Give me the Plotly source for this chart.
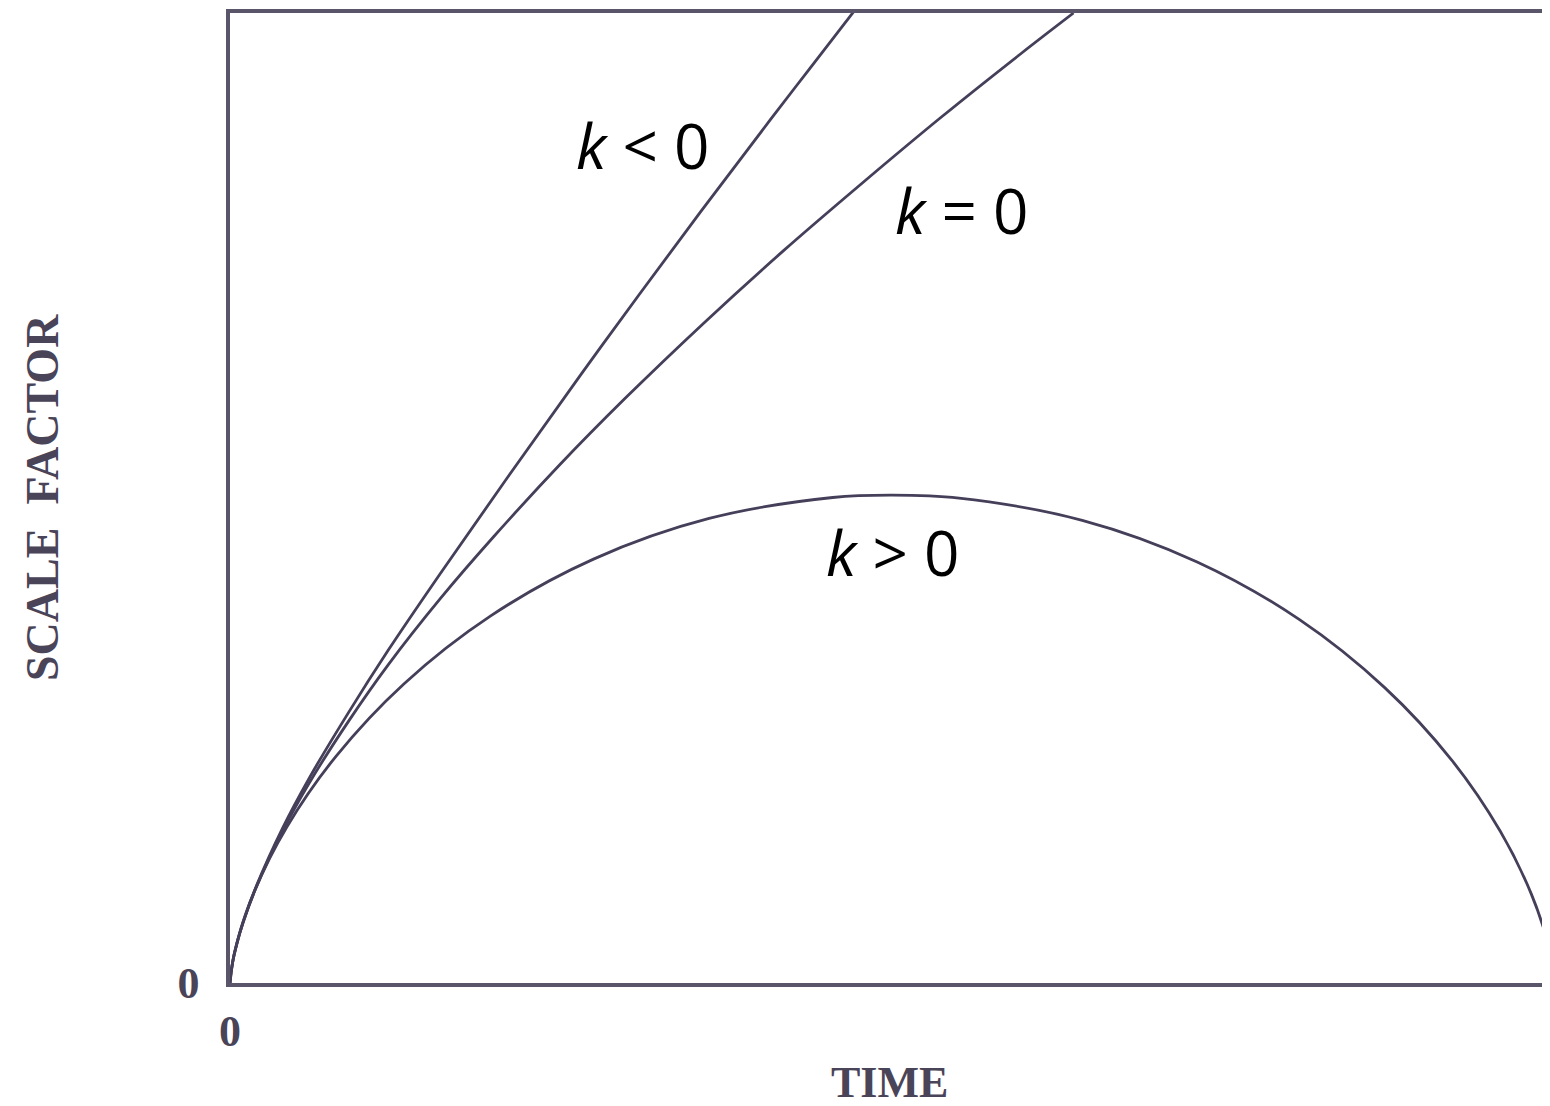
import plotly.graph_objects as go

# Time axis and scale factor, both in percent of the drawn frame
t_open = [0, 0.2, 0.5, 1, 2, 4, 6, 9, 12, 16, 21.2, 28.1, 35.7, 41, 44, 47.3]
a_open = [0, 2.15, 3.95, 6.3, 10.0, 16.0, 21.1, 27.9, 34.3, 42.3, 52.4, 65.5, 79.5, 89.0, 94.3, 100.1]

t_flat = [0, 0.2, 0.5, 1, 2, 4, 6, 9, 12, 16, 20, 25, 30, 36, 42, 48, 54, 60, 64]
a_flat = [0, 2.14, 3.94, 6.25, 9.9, 15.7, 20.6, 27.0, 32.8, 39.7, 46.0, 53.4, 60.3, 68.1, 75.5, 82.5, 89.3, 95.8, 100]

t_closed = [0, 0.07, 0.57, 1.87, 4.29, 8.04, 13.21, 19.78, 27.58, 36.35, 45.73, 50.25,
            55.31, 64.66, 73.38, 81.12, 87.61, 92.71, 96.38, 98.73, 99.98, 100.44]
a_closed = [0, 1.12, 4.39, 9.52, 16.04, 23.37, 30.86, 37.85, 43.70, 47.89, 50.05, 50.3,
            49.99, 47.70, 43.41, 37.48, 30.45, 22.95, 15.64, 9.19, 4.16, 1.0]

curve_labels = ["<i>k</i> < 0", "<i>k</i> = 0", "<i>k</i> > 0"]
label_t = [31.3, 55.5, 50.3]
label_a = [86.4, 79.7, 44.4]

x_ticks = [0]
x_ticktext = ["0"]
y_ticks = [0]
y_ticktext = ["0"]

line_col = "#463f5a"
frame_col = "#5a5568"
text_col = "#4a4458"

fig = go.Figure()
for tt, aa in [(t_open, a_open), (t_flat, a_flat), (t_closed, a_closed)]:
    fig.add_trace(go.Scatter(x=tt, y=aa, mode="lines",
                             line=dict(color=line_col, width=2.8, shape="spline", smoothing=1.0),
                             showlegend=False, hoverinfo="skip"))

for txt, tx, ty in zip(curve_labels, label_t, label_a):
    fig.add_annotation(x=tx, y=ty, text=txt, showarrow=False,
                       font=dict(family="Open Sans", size=62, color="#000000"),
                       xanchor="center", yanchor="middle")

serif = dict(family="Liberation Serif", size=44, color=text_col, weight="bold")

fig.add_annotation(xref="paper", yref="paper", x=0.5, y=0, yshift=-99,
                   text="TIME", showarrow=False, font=serif,
                   xanchor="center", yanchor="middle")
fig.add_annotation(xref="paper", yref="paper", x=0, y=0.5, xshift=-188,
                   text="SCALE  FACTOR", showarrow=False, font=dict(serif, size=46),
                   textangle=-90, xanchor="center", yanchor="middle")

# faint right border
fig.add_shape(type="line", xref="paper", yref="paper", x0=1, x1=1, y0=0, y1=1,
              line=dict(color="#c9d2c9", width=2))

fig.update_layout(
    width=1542, height=1098,
    margin=dict(l=222, r=2, t=5, b=123),
    paper_bgcolor="white", plot_bgcolor="white",
    xaxis=dict(range=[0, 100], showgrid=False, zeroline=False,
               showline=True, mirror=True, linecolor=frame_col, linewidth=3.5,
               tickvals=x_ticks, ticktext=x_ticktext, ticks="",
               tickfont=dict(family="Liberation Serif", size=44, color=text_col, weight="bold"),
               ticklabelstandoff=6),
    yaxis=dict(range=[0, 100], showgrid=False, zeroline=False,
               showline=True, mirror=False, linecolor=frame_col, linewidth=3.5,
               tickvals=y_ticks, ticktext=y_ticktext, ticks="",
               tickfont=dict(family="Liberation Serif", size=44, color=text_col, weight="bold"),
               ticklabelstandoff=18),
)

fig.write_html("out.html")
